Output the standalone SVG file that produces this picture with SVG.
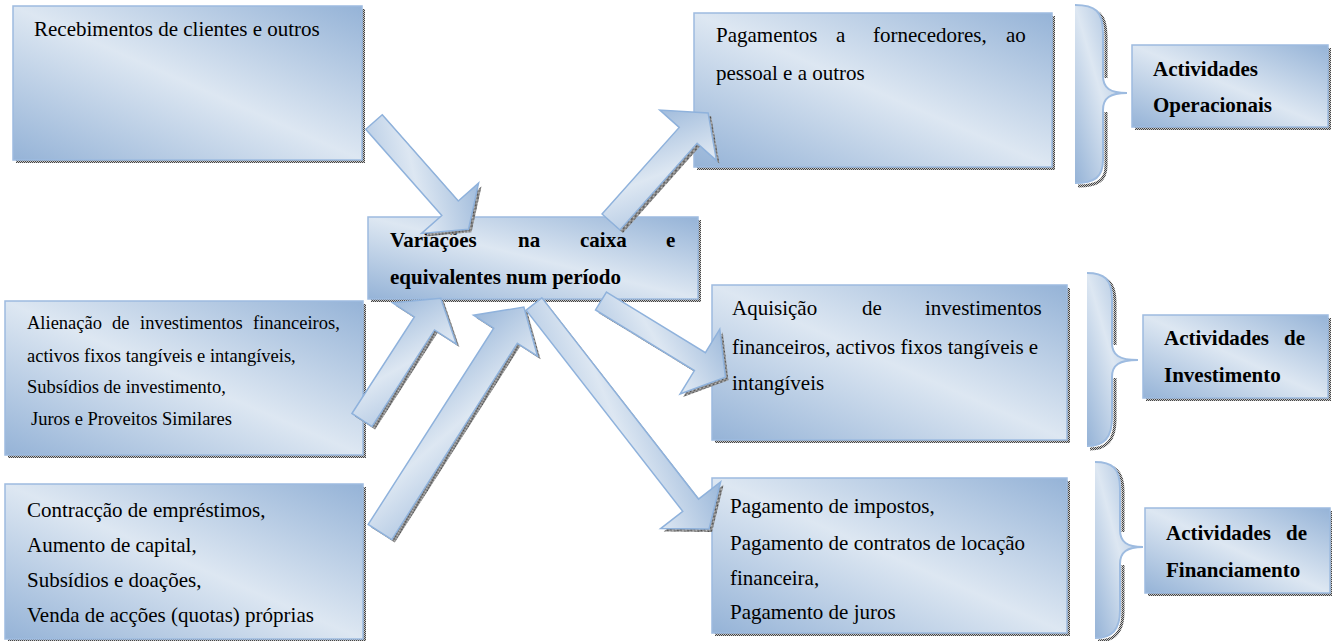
<svg xmlns="http://www.w3.org/2000/svg" width="1332" height="641" viewBox="0 0 1332 641">
<defs>
<linearGradient id="g" x1="0" y1="1" x2="1" y2="0">
<stop offset="0" stop-color="#95b3d7"/>
<stop offset="0.5" stop-color="#dde7f2"/>
<stop offset="1" stop-color="#95b3d7"/>
</linearGradient>
<linearGradient id="ga" x1="0" y1="1" x2="1" y2="0">
<stop offset="0" stop-color="#a9c2e0"/>
<stop offset="0.45" stop-color="#dde7f2"/>
<stop offset="1" stop-color="#93b2d7"/>
</linearGradient>
<pattern id="sh" width="2" height="2" patternUnits="userSpaceOnUse">
<rect width="2" height="2" fill="#c8c8c8"/>
<rect width="1" height="1" fill="#444"/>
<rect x="1" y="1" width="1" height="1" fill="#444"/>
</pattern>
<style>
.box{fill:url(#g);stroke:#9dbbe0;stroke-width:1.5}
.shd{fill:url(#sh)}
.arr{fill:url(#ga);stroke:#8fb2dc;stroke-width:1.5;stroke-linejoin:miter}
.brf{fill:url(#g);stroke:none}
.brs{fill:none;stroke:#9dbbe0;stroke-width:2}
.brsh{fill:none;stroke:url(#sh);stroke-width:3}
.s{font-size:18.5px}
.b{font-weight:bold}
</style>
</defs>

<g id="connectors">
<g id="brace-op">
<path class="brsh" d="M1078,8 C1098,8 1106,14 1106,36 L1106,78 M1106,112 L1106,166 C1106,180 1098,186 1078,186"/>
<path class="brf" d="M1075,5 C1095,5 1103,11 1103,33 L1103,76 C1103,88 1110,93 1127,93 C1110,93 1103,98 1103,110 L1103,160 C1103,177 1095,183 1075,183 Z"/>
<path class="brs" d="M1075,5 C1095,5 1103,11 1103,33 L1103,76 C1103,88 1110,93 1127,93 C1110,93 1103,98 1103,110 L1103,160 C1103,177 1095,183 1075,183"/>
</g>
<g id="brace-inv">
<path class="brsh" d="M1090,276 C1107,276 1115,282 1115,302 L1115,345 M1115,378 L1115,420 C1115,440 1107,449 1090,449"/>
<path class="brf" d="M1087,273 C1104,273 1112,279 1112,299 L1112,343 C1112,355 1119,360 1138,360 C1119,360 1112,365 1112,377 L1112,418 C1112,438 1104,446 1087,446 Z"/>
<path class="brs" d="M1087,273 C1104,273 1112,279 1112,299 L1112,343 C1112,355 1119,360 1138,360 C1119,360 1112,365 1112,377 L1112,418 C1112,438 1104,446 1087,446"/>
</g>
<g id="brace-fin">
<path class="brsh" d="M1098,465 C1115,465 1123,471 1123,491 L1123,532 M1123,565 L1123,612 C1123,632 1115,641 1098,641"/>
<path class="brf" d="M1095,462 C1112,462 1120,468 1120,488 L1120,530 C1120,542 1127,547 1143,547 C1127,547 1120,552 1120,564 L1120,610 C1120,630 1112,638 1095,638 Z"/>
<path class="brs" d="M1095,462 C1112,462 1120,468 1120,488 L1120,530 C1120,542 1127,547 1143,547 C1127,547 1120,552 1120,564 L1120,610 C1120,630 1112,638 1095,638"/>
</g>
</g>

<g font-family="Liberation Serif, Tinos, Times New Roman, serif" font-size="21" fill="#000">
<g id="n-receb">
<rect class="shd" x="16" y="9" width="349" height="154"/>
<rect class="box" x="13" y="6" width="349" height="154"/>
<text x="34" y="36">Recebimentos de clientes e outros</text>
</g>

<g id="n-alien">
<rect class="shd" x="8" y="304" width="358" height="154"/>
<rect class="box" x="5" y="301" width="358" height="154"/>
<text class="s" y="329"><tspan x="27">Alienação</tspan><tspan x="112">de</tspan><tspan x="140">investimentos</tspan><tspan x="253">financeiros,</tspan></text>
<text class="s" x="27" y="362">activos fixos tangíveis e intangíveis,</text>
<text class="s" x="27" y="393">Subsídios de investimento,</text>
<text class="s" x="31" y="425">Juros e Proveitos Similares</text>
</g>

<g id="n-contr">
<rect class="shd" x="8" y="487" width="358" height="155"/>
<rect class="box" x="5" y="484" width="358" height="155"/>
<text x="27" y="517">Contracção de empréstimos,</text>
<text x="27" y="552">Aumento de capital,</text>
<text x="27" y="587">Subsídios e doações,</text>
<text x="27" y="622">Venda de acções (quotas) próprias</text>
</g>

<g id="n-pagforn">
<rect class="shd" x="697" y="16" width="358" height="154"/>
<rect class="box" x="694" y="13" width="358" height="154"/>
<text y="42"><tspan x="716">Pagamentos</tspan><tspan x="836">a</tspan><tspan x="873">fornecedores,</tspan><tspan x="1006">ao</tspan></text>
<text x="716" y="80">pessoal e a outros</text>
</g>

<g id="n-aquis">
<rect class="shd" x="715" y="288" width="355" height="155"/>
<rect class="box" x="712" y="285" width="355" height="155"/>
<text y="315"><tspan x="732">Aquisição</tspan><tspan x="862">de</tspan><tspan x="925">investimentos</tspan></text>
<text x="732" y="354">financeiros, activos fixos tangíveis e</text>
<text x="732" y="390">intangíveis</text>
</g>

<g id="n-pagimp">
<rect class="shd" x="715" y="481" width="355" height="155"/>
<rect class="box" x="712" y="478" width="355" height="155"/>
<text x="730" y="513">Pagamento de impostos,</text>
<text x="730" y="550">Pagamento de contratos de locação</text>
<text x="730" y="585">financeira,</text>
<text x="730" y="619">Pagamento de juros</text>
</g>

<g id="n-actop">
<rect class="shd" x="1135" y="48" width="196" height="82"/>
<rect class="box" x="1132" y="45" width="196" height="82"/>
<text class="b" x="1153" y="76">Actividades</text>
<text class="b" x="1153" y="112">Operacionais</text>
</g>

<g id="n-actinv">
<rect class="shd" x="1146" y="318" width="185" height="83"/>
<rect class="box" x="1143" y="315" width="185" height="83"/>
<text class="b" y="345"><tspan x="1164">Actividades</tspan><tspan x="1284">de</tspan></text>
<text class="b" x="1164" y="382">Investimento</text>
</g>

<g id="n-actfin">
<rect class="shd" x="1148" y="511" width="185" height="85"/>
<rect class="box" x="1145" y="508" width="185" height="85"/>
<text class="b" y="540"><tspan x="1166">Actividades</tspan><tspan x="1286">de</tspan></text>
<text class="b" x="1166" y="577">Financiamento</text>
</g>

<g id="n-central">
<rect class="shd" x="371" y="220" width="330" height="82"/>
<rect class="box" x="368" y="217" width="330" height="82"/>
<text class="b" y="247"><tspan x="390">Variações</tspan><tspan x="518">na</tspan><tspan x="580">caixa</tspan><tspan x="666">e</tspan></text>
<text class="b" x="390" y="284">equivalentes num período</text>
</g>
</g>

<g id="arrows">
<g transform="translate(3,3)" class="shd">
<polygon transform="translate(374,122) rotate(48.6)" points="0,-11 115,-11 115,-38 143,0 115,38 115,11 0,11"/>
<polygon transform="translate(611,222) rotate(-48.3)" points="0,-12 116,-12 116,-38 146,0 116,38 116,12 0,12"/>
<polygon transform="translate(362,420) rotate(-57.1)" points="0,-12 115,-12 115,-38 145,0 115,38 115,12 0,12"/>
<polygon transform="translate(380,532) rotate(-57.4)" points="0,-14 233,-14 233,-38 267,0 233,38 233,14 0,14"/>
<polygon transform="translate(601,301) rotate(31.5)" points="0,-10.5 116,-10.5 116,-38 146,0 116,38 116,10.5 0,10.5"/>
<polygon transform="translate(534,304) rotate(52.1)" points="0,-10 255,-10 255,-38 285,0 255,38 255,10 0,10"/>
</g>
<polygon id="a-receb" class="arr" transform="translate(374,122) rotate(48.6)" points="0,-11 115,-11 115,-38 143,0 115,38 115,11 0,11"/>
<polygon id="a-pagforn" class="arr" transform="translate(611,222) rotate(-48.3)" points="0,-12 116,-12 116,-38 146,0 116,38 116,12 0,12"/>
<polygon id="a-alien" class="arr" transform="translate(362,420) rotate(-57.1)" points="0,-12 115,-12 115,-38 145,0 115,38 115,12 0,12"/>
<polygon id="a-contr" class="arr" transform="translate(380,532) rotate(-57.4)" points="0,-14 233,-14 233,-38 267,0 233,38 233,14 0,14"/>
<polygon id="a-aquis" class="arr" transform="translate(601,301) rotate(31.5)" points="0,-10.5 116,-10.5 116,-38 146,0 116,38 116,10.5 0,10.5"/>
<polygon id="a-pagimp" class="arr" transform="translate(534,304) rotate(52.1)" points="0,-10 255,-10 255,-38 285,0 255,38 255,10 0,10"/>
</g>
</svg>
